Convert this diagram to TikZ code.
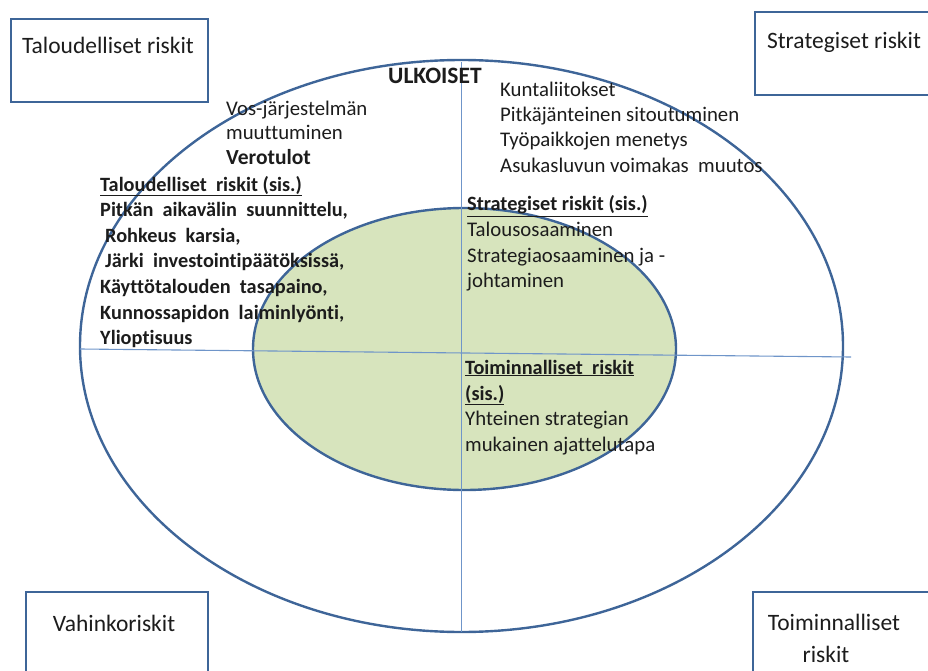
\documentclass[tikz,border=0pt]{standalone}
\usepackage{fontspec}
\setmainfont{Carlito}[Ligatures=NoCommon]
\definecolor{rim}{HTML}{3E6598}
\definecolor{axisblue}{HTML}{6F95C9}
\definecolor{leaf}{HTML}{D7E4BD}
\definecolor{ink}{HTML}{1C1C1C}
\begin{document}
\begin{tikzpicture}[x=1pt,y=-1pt,
  riskbox/.style={draw=rim,line width=2.4pt,rectangle,inner sep=0pt},
  ring/.style={draw=rim,line width=2.4pt},
  axisline/.style={draw=axisblue,line width=1.1pt},
  boxtext/.style={font=\fontsize{23.5}{32}\selectfont,text=ink,inner sep=0pt,align=center},
  plain/.style={font=\fontsize{20.8}{25}\selectfont,text=ink,inner sep=0pt,anchor=base west},
  heavy/.style={plain,font=\fontsize{20.3}{25}\selectfont\bfseries}]
\useasboundingbox (0,0) rectangle (928,671);
\clip (0,0) rectangle (928,671);

% rings
\draw[ring] (461.5,346) ellipse [x radius=381.5, y radius=286];
\draw[ring,fill=leaf] (464.5,349) ellipse [x radius=211.5, y radius=141];

% quadrant axes
\coordinate (hw) at (80,349);
\coordinate (he) at (851,357);
\coordinate (vn) at (461.5,62);
\coordinate (vs) at (461.5,632);
\draw[axisline] (hw) -- (he);
\draw[axisline] (vn) -- (vs);

% corner boxes
\node[riskbox,minimum width=197pt,minimum height=83pt] (boxTL) at (109.5,60.5) {};
\node[riskbox,minimum width=190pt,minimum height=83pt] (boxTR) at (850,53.5) {};
\node[riskbox,minimum width=182pt,minimum height=100pt] (boxBL) at (117,642) {};
\node[riskbox,minimum width=190pt,minimum height=100pt] (boxBR) at (848,642) {};
\node[boxtext] (tTL) at (108,45) {Taloudelliset riskit};
\node[boxtext] (tTR) at (844,42) {Strategiset riskit};
\node[boxtext] (tBL) at (114,623) {Vahinkoriskit};
\node[boxtext] (tBR) at (834,638.5) {Toiminnalliset\\\hspace*{-16pt}riskit};

% external risks
\node[heavy,font=\fontsize{23.5}{25}\selectfont\bfseries] (ulk) at (388,84) {ULKOISET};
\foreach \txt [count=\i] in {Kuntaliitokset,Pitkäjänteinen sitoutuminen,Työpaikkojen menetys,Asukasluvun voimakas~ muutos}
  \node[plain] (ext\i) at (500,97+25*\i-25) {\txt};
\node[plain] (vos1) at (226,116) {Vos-järjestelmän};
\node[plain] (vos2) at (226,140) {muuttuminen};
\node[heavy,font=\fontsize{21.5}{25}\selectfont\bfseries] (vero) at (226,165) {Verotulot};

% internal financial risks
\node[heavy] (fin0) at (100,191) {\underline{Taloudelliset~ riskit (sis.)}};
\foreach \txt/\dx [count=\i] in {{Pitkän~ aikavälin~ suunnittelu,}/0,{Rohkeus~ karsia,}/5,{Järki~ investointipäätöksissä,}/5,{Käyttötalouden~ tasapaino,}/0,{Kunnossapidon~ laiminlyönti,}/0,{Ylioptisuus}/0}
  \node[heavy] (fin\i) at (100+\dx,191+25.6*\i) {\txt};

% internal strategic risks
\node[heavy] (str0) at (467,211) {\underline{Strategiset riskit (sis.)}};
\node[plain] (str1) at (467,236) {Talousosaaminen};
\node[plain] (str2) at (467,262) {Strategiaosaaminen ja -};
\node[plain] (str3) at (467,287) {johtaminen};

% internal operational risks
\node[heavy] (op0) at (465,374) {\underline{Toiminnalliset~ riskit}};
\node[heavy] (op1) at (465,400) {\underline{(sis.)}};
\node[plain] (op2) at (465,425) {Yhteinen strategian};
\node[plain] (op3) at (465,451) {mukainen ajattelutapa};
\end{tikzpicture}
\end{document}
